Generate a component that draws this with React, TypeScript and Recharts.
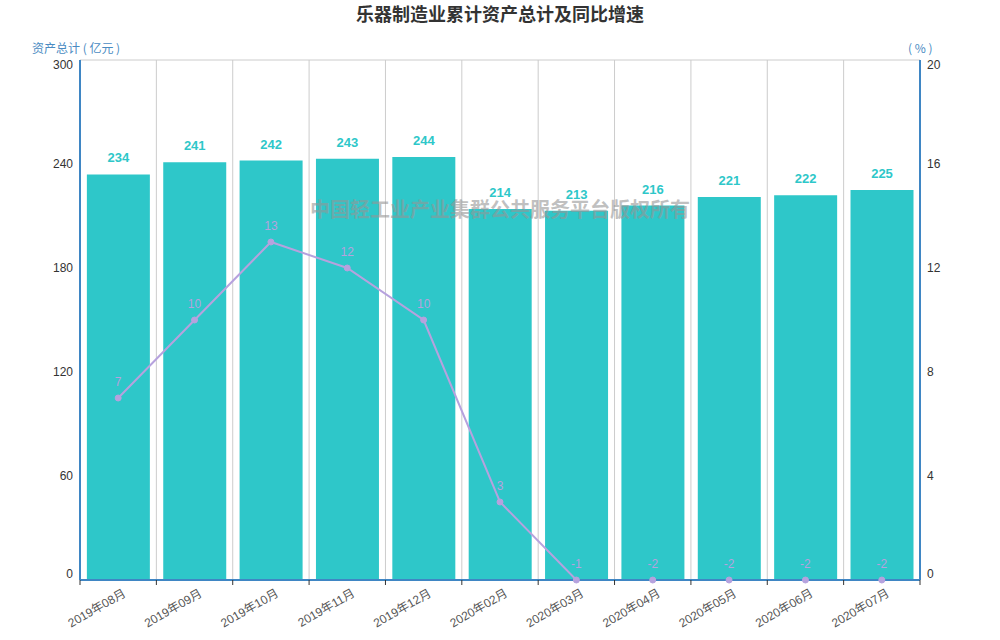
import React from 'react';
import { ComposedChart, Bar, Line, XAxis, YAxis, CartesianGrid, LabelList } from 'recharts';

const months = ['2019年08月', '2019年09月', '2019年10月', '2019年11月', '2019年12月', '2020年02月', '2020年03月', '2020年04月', '2020年05月', '2020年06月', '2020年07月'];
const assets = [234, 241, 242, 243, 244, 214, 213, 216, 221, 222, 225];
const growth = [7, 10, 13, 12, 10, 3, -1, -2, -2, -2, -2];
const leftTicks = [0, 60, 120, 180, 240, 300];
const rightTicks = [0, 4, 8, 12, 16, 20];

const data = months.map((m, i) => ({
  month: m,
  assets: assets[i],
  growth: growth[i],
  growthPlot: Math.max(0, growth[i]),
}));

const FONT = '"Liberation Sans", Arial, "Noto Sans CJK SC", sans-serif';
const AXIS_BLUE = '#3F86C4';
const BAR = '#2EC7C9';
const LINE = '#B6A2DE';

const XTick = (props: any) => {
  const { x, y, payload, index } = props;
  const half = payload?.offset ?? 0;
  const last = index === months.length - 1;
  return (
    <g>
      <line x1={x - half} x2={x - half} y1={y - 5} y2={y} stroke="#333" strokeWidth={1} />
      {last && <line x1={x + half} x2={x + half} y1={y - 5} y2={y} stroke="#333" strokeWidth={1} />}
      <text
        x={x + 4}
        y={y + 3}
        textAnchor="end"
        dominantBaseline="hanging"
        transform={`rotate(-30, ${x + 4}, ${y + 3})`}
        fontSize={12}
        fill="#555"
        fontFamily={FONT}
      >
        {payload.value}
      </text>
    </g>
  );
};

const makeYTick = (side: 'left' | 'right', max: number) => (props: any) => {
  const { x, y, payload } = props;
  let dy = 0;
  if (payload.value === max) dy = 5;
  if (payload.value === 0) dy = -6;
  return (
    <text
      x={x}
      y={y + dy}
      textAnchor={side === 'left' ? 'end' : 'start'}
      dominantBaseline="central"
      fontSize={12}
      fill="#333"
      fontFamily={FONT}
    >
      {payload.value}
    </text>
  );
};

const LeftTick = makeYTick('left', 300);
const RightTick = makeYTick('right', 20);

export default function App() {
  return (
    <div style={{ position: 'absolute', left: 0, top: 0, width: 1000, height: 640, background: '#fff', fontFamily: FONT }}>
      <div
        style={{
          position: 'absolute',
          left: 0,
          top: 2,
          width: 1000,
          textAlign: 'center',
          fontSize: 18,
          fontWeight: 'bold',
          color: '#333',
          fontFamily: '"Noto Sans CJK SC", sans-serif',
          lineHeight: '22px',
        }}
      >
        乐器制造业累计资产总计及同比增速
      </div>
      <div style={{ position: 'absolute', left: 32, top: 40, fontSize: 12, color: '#4A8BC2', lineHeight: '16px', fontFamily: '"Noto Sans CJK SC", sans-serif', whiteSpace: 'pre' }}>
        资产总计 ( 亿元 )
      </div>
      <div style={{ position: 'absolute', left: 908, top: 40, fontSize: 12, color: '#4A8BC2', lineHeight: '16px', fontFamily: '"Noto Sans CJK SC", sans-serif', whiteSpace: 'pre' }}>
        ( % )
      </div>
      <div style={{ position: 'absolute', left: 0, top: 0 }}>
        <ComposedChart
          width={1000}
          height={640}
          data={data}
          margin={{ top: 60, right: 30, bottom: 10, left: 30 }}
          barCategoryGap="9%"
        >
          <CartesianGrid
            stroke="#ccc"
            verticalCoordinatesGenerator={({ offset }: any) =>
              Array.from({ length: months.length + 1 }, (_, i) => offset.left + (i * offset.width) / months.length)
            }
          />
          <XAxis
            dataKey="month"
            interval={0}
            height={50}
            tickLine={false}
            tickSize={5}
            tickMargin={0}
            axisLine={{ stroke: AXIS_BLUE, strokeWidth: 2 }}
            tick={<XTick />}
          />
          <YAxis
            yAxisId="left"
            domain={[0, 300]}
            ticks={leftTicks}
            width={50}
            tickLine={false}
            tickSize={0}
            tickMargin={7}
            axisLine={{ stroke: AXIS_BLUE, strokeWidth: 2 }}
            tick={<LeftTick />}
          />
          <YAxis
            yAxisId="right"
            orientation="right"
            domain={[0, 20]}
            ticks={rightTicks}
            width={50}
            tickLine={false}
            tickSize={0}
            tickMargin={7}
            axisLine={{ stroke: AXIS_BLUE, strokeWidth: 2 }}
            tick={<RightTick />}
          />
          <Bar yAxisId="left" dataKey="assets" fill={BAR} isAnimationActive={false}>
            <LabelList
              dataKey="assets"
              position="top"
              offset={12}
              fill={BAR}
              fontSize={13}
              fontWeight="bold"
              fontFamily={FONT}
            />
          </Bar>
          <Line
            yAxisId="right"
            dataKey="growthPlot"
            stroke={LINE}
            strokeWidth={2}
            dot={{ r: 3, fill: LINE, stroke: LINE, strokeWidth: 1 }}
            activeDot={false}
            isAnimationActive={false}
          >
            <LabelList dataKey="growth" position="top" offset={12} fill={LINE} fontSize={12} fontFamily={FONT} />
          </Line>
        </ComposedChart>
      </div>
      <div
        style={{
          position: 'absolute',
          left: 0,
          top: 199,
          width: 1000,
          textAlign: 'center',
          fontSize: 20,
          fontWeight: 'bold',
          color: 'rgba(150,150,150,0.6)',
          fontFamily: '"Noto Sans CJK SC", sans-serif',
          lineHeight: '20px',
          pointerEvents: 'none',
        }}
      >
        中国轻工业产业集群公共服务平台版权所有
      </div>
    </div>
  );
}
